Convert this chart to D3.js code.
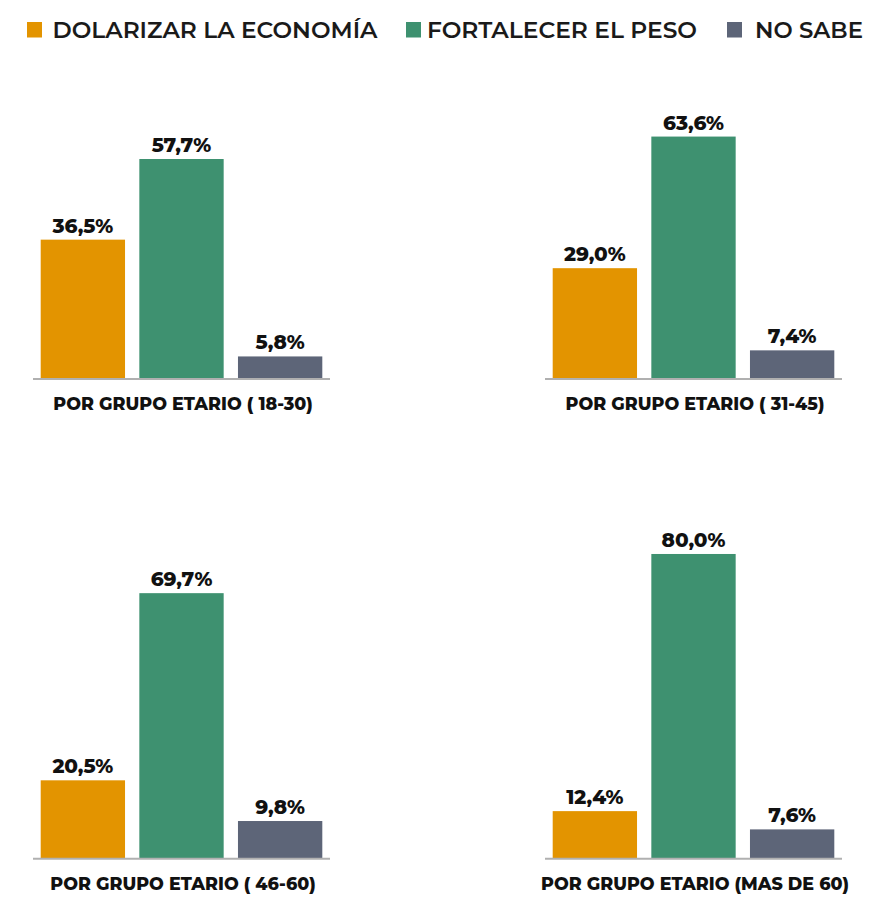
<!DOCTYPE html>
<meta charset="utf-8">
<html>
<head>
    <script src="https://d3js.org/d3.v7.min.js"></script>
    <style>
      body { margin: 0; background: #fff; }
      text { font-family: "Montserrat", "Open Sans", sans-serif; }
    </style>
</head>
<body>
<div id="chart"></div>
<script>
    // data
    const seriesNames = ["DOLARIZAR LA ECONOMÍA", "FORTALECER EL PESO", "NO SABE"];
    const groups = ["POR GRUPO ETARIO ( 18-30)", "POR GRUPO ETARIO ( 31-45)", "POR GRUPO ETARIO ( 46-60)", "POR GRUPO ETARIO (MAS DE 60)"];
    const dolarizar = [36.5, 29.0, 20.5, 12.4];
    const fortalecer = [57.7, 63.6, 69.7, 80.0];
    const noSabe = [5.8, 7.4, 9.8, 7.6];
    const colors = ["#e39400", "#3e9170", "#5d6578"];

    const W = 887, H = 911;
    const svg = d3.select("#chart").append("svg")
        .attr("width", W)
        .attr("height", H);

    // legend
    const legendX = [27, 406, 727];
    const legendW = [325, 270, 108];
    const legend = svg.selectAll(".legend")
        .data(seriesNames)
        .enter().append("g")
        .attr("class", "legend")
        .attr("transform", (d, i) => `translate(${legendX[i]},0)`);

    legend.append("rect")
        .attr("y", 22)
        .attr("width", 15)
        .attr("height", 15.5)
        .attr("fill", (d, i) => colors[i]);

    legend.append("text")
        .attr("x", (d, i) => i == 0 ? 25.5 : (i == 1 ? 21 : 28))
        .attr("y", 37.5)
        .attr("font-size", 22)
        .attr("font-weight", 600)
        .attr("fill", "#1a1a1a")
        .attr("textLength", (d, i) => legendW[i])
        .attr("lengthAdjust", "spacingAndGlyphs")
        .text(d => d);

    // panels
    const panelW = 297, plotH = 380.4;
    const panels = [
        { x: 33, base: 378.5 },
        { x: 545, base: 378.5 },
        { x: 33, base: 858.3 },
        { x: 545, base: 858.3 }
    ];

    const x = d3.scaleBand()
        .domain(seriesNames)
        .range([0, panelW])
        .paddingInner(0.145)
        .paddingOuter(0.078);

    const y = d3.scaleLinear()
        .domain([0, 100])
        .range([plotH, 0]);

    const fmt = v => d3.format(".1f")(v).replace(".", ",") + "%";

    groups.forEach((g, i) => {
        const vals = [dolarizar[i], fortalecer[i], noSabe[i]];
        const p = svg.append("g")
            .attr("transform", `translate(${panels[i].x},${panels[i].base - plotH})`);

        p.selectAll("rect")
            .data(vals)
            .enter().append("rect")
            .attr("x", (d, j) => x(seriesNames[j]))
            .attr("y", d => y(d))
            .attr("width", x.bandwidth())
            .attr("height", d => plotH - y(d))
            .attr("fill", (d, j) => colors[j]);

        p.selectAll(".val")
            .data(vals)
            .enter().append("text")
            .attr("class", "val")
            .attr("x", (d, j) => x(seriesNames[j]) + x.bandwidth() / 2)
            .attr("y", d => y(d) - 7)
            .attr("text-anchor", "middle")
            .attr("font-size", 20)
            .attr("font-weight", 800)
            .attr("fill", "#111")
            .text(d => fmt(d));

        // baseline
        p.append("line")
            .attr("x1", 0)
            .attr("x2", panelW)
            .attr("y1", plotH + 0.5)
            .attr("y2", plotH + 0.5)
            .attr("stroke", "#b0b0b0")
            .attr("stroke-width", 2);

        p.append("text")
            .attr("x", panelW / 2 + 1.5)
            .attr("y", plotH + 32)
            .attr("text-anchor", "middle")
            .attr("font-size", 17.5)
            .attr("font-weight", 800)
            .attr("fill", "#111")
            .text(g);
    });
</script>
</body>
</html>
